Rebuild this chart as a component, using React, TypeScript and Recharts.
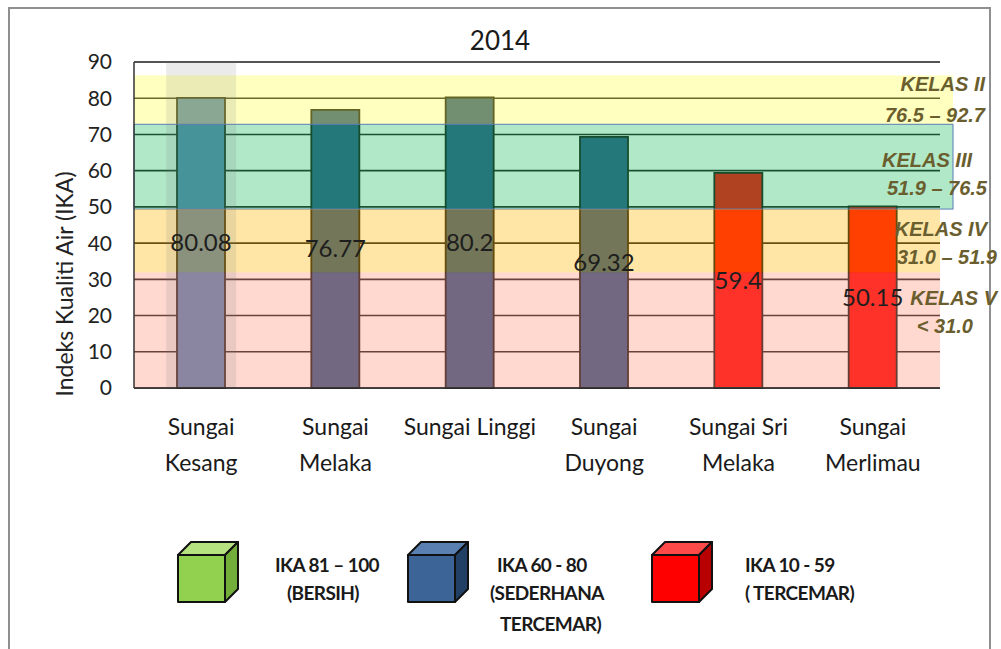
import React from 'react'
import { BarChart, Bar, XAxis, YAxis, CartesianGrid, ReferenceArea, LabelList, Cell } from 'recharts'

const categories = ['Sungai Kesang', 'Sungai Melaka', 'Sungai Linggi', 'Sungai Duyong', 'Sungai Sri Melaka', 'Sungai Merlimau']
const tickLines = [['Sungai', 'Kesang'], ['Sungai', 'Melaka'], ['Sungai Linggi'], ['Sungai', 'Duyong'], ['Sungai Sri', 'Melaka'], ['Sungai', 'Merlimau']]
const ikaValues = [80.08, 76.77, 80.2, 69.32, 59.4, 50.15]
const barColors = ['#5284C2', '#285387', '#285387', '#285387', '#FF0000', '#FF0000']
const yTicks = [0, 10, 20, 30, 40, 50, 60, 70, 80, 90]

// class bands as they are drawn in the picture (lower, upper)
const bandLower = [72.8, 49.4, 31.9, 0]
const bandUpper = [86.3, 72.8, 49.4, 31.9]
const bandFills = ['#FFFF4B', '#1DBD62', '#FFB800', '#FF9079']
const kelasNames = ['KELAS II', 'KELAS III', 'KELAS IV', 'KELAS V']
const kelasRanges = ['76.5 – 92.7', '51.9 – 76.5', '31.0 – 51.9', '< 31.0']

const legendTitles = ['IKA 81 – 100', 'IKA 60 - 80', 'IKA 10 - 59']
const legendNotes = [['(BERSIH)'], ['(SEDERHANA', 'TERCEMAR)'], ['( TERCEMAR)']]
const legendFaces = [
  ['#92D050', '#B6E37F', '#74AE3A'],
  ['#3C6496', '#5A80B2', '#223F66'],
  ['#FF0000', '#FF4A4A', '#B80000'],
]

const data = categories.map((name, i) => ({ name, ika: ikaValues[i] }))

const FONT = 'Lato, "Open Sans", sans-serif'

// label placement on the right side of the plot
const kelasPos = [
  { nx: 985, ny: 91, rx: 985, ry: 122 },
  { nx: 972, ny: 167, rx: 987, ry: 195 },
  { nx: 987, ny: 236, rx: 997, ry: 264 },
  { nx: 997, ny: 305, rx: 973, ry: 333 },
]
const bandExtra = [13, 13, 0, 0]
const legendPos = [
  { cx: 178, tx: 275, nx: [287] },
  { cx: 408, tx: 497, nx: [490, 500] },
  { cx: 652, tx: 745, nx: [745] },
]

function XTick(props: any) {
  const { x, y, payload } = props
  const lines = tickLines[categories.indexOf(payload.value)] || [payload.value]
  return (
    <text x={x} y={y} textAnchor="middle" fill="#1a1a1a" fontSize={23} fontFamily={FONT}>
      {lines.map((l, i) => (
        <tspan key={i} x={x} y={y + 47 + i * 36}>{l}</tspan>
      ))}
    </text>
  )
}

function Cube({ x, faces }: { x: number; faces: string[] }) {
  const y = 555
  const s = 47
  const d = 13
  return (
    <g stroke="#111" strokeWidth={2} strokeLinejoin="round">
      <polygon points={`${x},${y} ${x + d},${y - d} ${x + s + d},${y - d} ${x + s},${y}`} fill={faces[1]} />
      <polygon points={`${x + s},${y} ${x + s + d},${y - d} ${x + s + d},${y + s - d} ${x + s},${y + s}`} fill={faces[2]} />
      <rect x={x} y={y} width={s} height={s} fill={faces[0]} />
    </g>
  )
}

export default function App() {
  return (
    <div style={{ position: 'absolute', left: 0, top: 0, width: 1001, height: 649, background: '#fff', overflow: 'hidden' }}>
      <BarChart width={1001} height={649} data={data} margin={{ top: 62, right: 61, bottom: 181, left: 0 }}>
        <CartesianGrid vertical={false} stroke="#1a1a1a" strokeWidth={1.6} />
        <XAxis
          dataKey="name"
          interval={0}
          height={80}
          tickSize={0}
          tickMargin={0}
          tickLine={false}
          axisLine={{ stroke: '#333', strokeWidth: 1.5 }}
          tick={<XTick />}
        />
        <YAxis
          width={134}
          domain={[0, 90]}
          ticks={yTicks}
          interval={0}
          tickSize={0}
          tickMargin={22}
          tickLine={false}
          axisLine={{ stroke: '#333', strokeWidth: 1.5 }}
          tick={{ fill: '#222', fontSize: 21, fontFamily: FONT }}
          label={{
            content: (p: any) => {
              const vb = p.viewBox || { x: 0, y: 62, height: 326 }
              const cx = vb.x + 64
              const cy = vb.y + vb.height / 2 + 59
              return (
                <text x={cx} y={cy} transform={`rotate(-90 ${cx} ${cy})`} textAnchor="middle" dominantBaseline="central" fill="#222" fontSize={23} fontFamily={FONT}>
                  Indeks Kualiti Air (IKA)
                </text>
              )
            },
          }}
        />
        <Bar dataKey="ika" barSize={48} stroke="#111" strokeWidth={1.8} isAnimationActive={false}>
          {data.map((d, i) => (
            <Cell key={d.name} fill={barColors[i]} />
          ))}
          <LabelList dataKey="ika" position="center" fill="#1e1e1e" fontSize={24} fontFamily={FONT} />
        </Bar>
        {bandFills.map((fill, i) => (
          <ReferenceArea
            key={fill}
            y1={bandLower[i]}
            y2={bandUpper[i]}
            zIndex={350}
            shape={(p: any) => (
              <rect
                x={p.x}
                y={p.y}
                width={p.width + bandExtra[i]}
                height={p.height}
                fill={fill}
                fillOpacity={0.35}
                stroke={i === 1 ? '#5B7DB8' : 'none'}
                strokeWidth={1}
              />
            )}
          />
        ))}
        <ReferenceArea
          x1={categories[0]}
          x2={categories[0]}
          zIndex={360}
          shape={(p: any) => (
            <rect x={p.x + p.width / 2 - 35} y={p.y} width={70} height={p.height} fill="#777" fillOpacity={0.15} />
          )}
        />
      </BarChart>
      <svg width={1001} height={649} style={{ position: 'absolute', left: 0, top: 0, pointerEvents: 'none' }}>
        <rect x={9} y={8} width={981} height={700} fill="none" stroke="#8f8f8f" strokeWidth={2} />
        <text x={500} y={50} textAnchor="middle" fill="#1a1a1a" fontSize={26} fontFamily={FONT}>2014</text>
        {kelasNames.map((name, i) => (
          <g key={name} fill="#6B5E2E" fontFamily='"Liberation Sans", Arial, sans-serif' fontStyle="italic" fontWeight={700} fontSize={20} textAnchor="end">
            <text x={kelasPos[i].nx} y={kelasPos[i].ny}>{name}</text>
            <text x={kelasPos[i].rx} y={kelasPos[i].ry}>{kelasRanges[i]}</text>
          </g>
        ))}
        {legendTitles.map((title, i) => (
          <g key={title}>
            <Cube x={legendPos[i].cx} faces={legendFaces[i]} />
            <text x={legendPos[i].tx} y={572} fill="#1a1a1a" fontSize={19} fontWeight={700} fontFamily={FONT} letterSpacing={-0.6}>{title}</text>
            {legendNotes[i].map((n, j) => (
              <text key={n} x={legendPos[i].nx[j]} y={600 + j * 31} fill="#1a1a1a" fontSize={19} fontWeight={700} fontFamily={FONT} letterSpacing={-0.6}>{n}</text>
            ))}
          </g>
        ))}
      </svg>
    </div>
  )
}
